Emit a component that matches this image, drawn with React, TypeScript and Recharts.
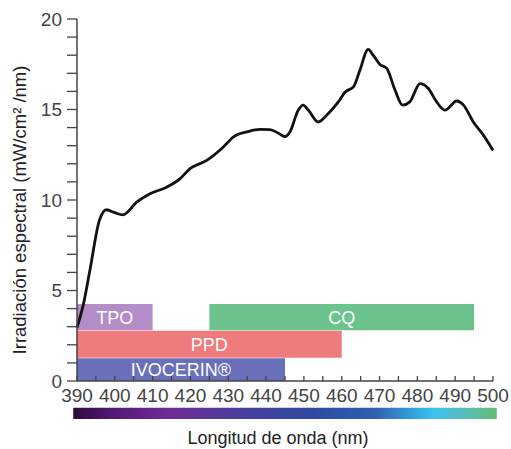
import React from "react"
import { LineChart, Line, XAxis, YAxis, ReferenceArea } from "recharts"

// spectral curve
const wavelengths = [390, 391.7, 393.4, 395.9, 397.8, 400, 402.1, 405.8, 409.3, 413.7, 417.2, 419.9, 424.3, 428.7, 431.3, 434.9, 438.4, 441, 443.2, 445, 446.3, 448.5, 449.8, 451.2, 453.8, 456, 459.1, 460.9, 463.1, 464.8, 467, 468.3, 470.1, 471.9, 474.1, 476.1, 478, 480.7, 482.9, 485.1, 487.3, 490.4, 492.2, 494.8, 497.5, 500]
const irradiance = [2.95, 4.25, 6.1, 8.86, 9.46, 9.3, 9.18, 9.88, 10.34, 10.71, 11.17, 11.73, 12.19, 12.93, 13.48, 13.76, 13.9, 13.89, 13.7, 13.5, 13.76, 14.96, 15.24, 14.96, 14.31, 14.68, 15.42, 15.97, 16.25, 17.17, 18.32, 18.0, 17.49, 17.27, 16.07, 15.24, 15.42, 16.43, 16.16, 15.42, 14.96, 15.47, 15.24, 14.31, 13.57, 12.74]

// photoinitiator absorption ranges
const initiators = ["TPO", "CQ", "PPD", "IVOCERIN®"]
const rangeStart = [390, 425, 390, 390]
const rangeEnd = [410, 495, 460, 445]
const bandLow = [2.8, 2.8, 1.29, 0]
const bandHigh = [4.25, 4.25, 2.77, 1.26]

const xTicks = [390, 395, 400, 405, 410, 415, 420, 425, 430, 435, 440, 445, 450, 455, 460, 465, 470, 475, 480, 485, 490, 495, 500]
const yTicks = [0, 1, 2, 3, 4, 5, 6, 7, 8, 9, 10, 11, 12, 13, 14, 15, 16, 17, 18, 19, 20]

const colors: Record<string, string> = {
  "TPO": "#b28dc8",
  "CQ": "#6cc38e",
  "PPD": "#f07b7c",
  "IVOCERIN®": "#6a6fba",
}

const data = wavelengths.map((nm, i) => ({ nm, irr: irradiance[i] }))

const font = "'Liberation Sans', Arial, sans-serif"

function XTick({ x, y, payload }: any) {
  const v = payload.value
  return <g>
    <line x1={x} x2={x} y1={y} y2={y - 5} stroke="#444" strokeWidth={1.3} />
    {v % 10 === 0 && <text x={x} y={y + 21} textAnchor="middle" fontSize={19} fill="#444" fontFamily={font}>{v}</text>}
  </g>
}

export default function App() {
  return <div style={{ position: "absolute", left: 0, top: 0 }}>
    <LineChart width={511} height={449} data={data} margin={{ top: 19, right: 18, left: 0, bottom: 0 }}>
      <defs>
        <linearGradient id="spectrum" x1="0" y1="0" x2="1" y2="0">
          <stop offset="0%" stopColor="#2b0b3d" />
          <stop offset="10%" stopColor="#55197a" />
          <stop offset="22%" stopColor="#6f2a98" />
          <stop offset="40%" stopColor="#4a3f9e" />
          <stop offset="56%" stopColor="#2f4a9f" />
          <stop offset="71%" stopColor="#2f5fb0" />
          <stop offset="80%" stopColor="#339fd9" />
          <stop offset="85%" stopColor="#3bc3ef" />
          <stop offset="92%" stopColor="#58bcbf" />
          <stop offset="100%" stopColor="#62bd72" />
        </linearGradient>
      </defs>
      <XAxis dataKey="nm" type="number" domain={[390, 500]} ticks={xTicks} interval={0}
        height={68} tickSize={0} tickMargin={0} tickLine={false} tick={<XTick />}
        axisLine={{ stroke: "#444", strokeWidth: 1.5 }}
        label={{
          content: (p: any) => <text x={p.viewBox.x + p.viewBox.width / 2 - 7} y={444} textAnchor="middle"
            fontSize={18} fill="#222" fontFamily={font}>Longitud de onda (nm)</text>
        }} />
      <YAxis type="number" domain={[0, 20]} ticks={yTicks} interval={0} width={77}
        tickSize={10} tickMargin={5} tickLine={{ stroke: "#444", strokeWidth: 1.3 }}
        axisLine={{ stroke: "#444", strokeWidth: 1.5 }}
        tickFormatter={(v: number) => (v % 5 === 0 ? String(v) : "")}
        tick={{ fontSize: 19, fill: "#444", fontFamily: font }}
        label={{
          content: (p: any) => <text transform={`translate(${p.viewBox.x + 19},${p.viewBox.y + p.viewBox.height / 2 + 10}) rotate(-90)`}
            textAnchor="middle" dominantBaseline="central" fontSize={18.5} fill="#222" fontFamily={font}>
            Irradiación espectral (mW/cm² /nm)</text>
        }} />
      <ReferenceArea x1={389} x2={501} y1={-2.1} y2={-1.48} ifOverflow="visible" fill="url(#spectrum)" fillOpacity={1} stroke="none" />
      {initiators.map((name, i) =>
        <ReferenceArea key={name} x1={rangeStart[i]} x2={rangeEnd[i]} y1={bandLow[i]} y2={bandHigh[i]}
          fill={colors[name]} fillOpacity={1} stroke="none"
          label={{ value: name, position: "center", fill: "#fff", fontSize: 18, fontFamily: font }} />
      )}
      <Line type="monotone" dataKey="irr" stroke="#111" strokeWidth={2.8} dot={false} isAnimationActive={false} />
    </LineChart>
  </div>
}
